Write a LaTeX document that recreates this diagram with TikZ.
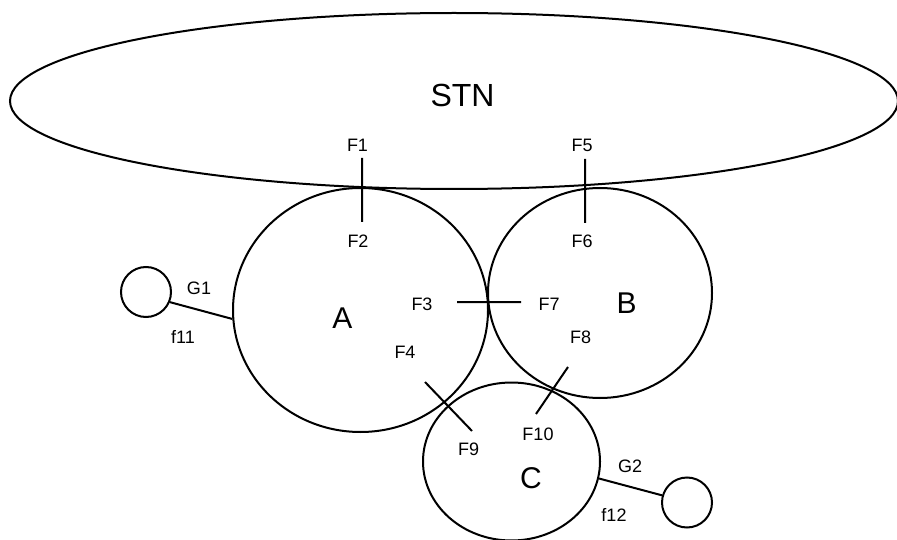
\documentclass[tikz,border=0pt]{standalone}
\usepackage{fontspec}
\setmainfont{Liberation Sans}
\usetikzlibrary{shapes.geometric}
\newcommand*{\bigtext}{\fontsize{30}{30}\selectfont}
\newcommand*{\smalltext}{\fontsize{18}{18}\selectfont}

\begin{document}
\begin{tikzpicture}[x=1pt, y=-1pt, line width=2pt]
      \useasboundingbox (0,0) rectangle (897,540);

      {\tikzstyle{every node}=[ellipse, draw, inner sep=0pt]
        \node[minimum width=888pt, minimum height=176pt] (stn) at (454,101) {};
        \node[minimum width=255pt, minimum height=244pt] (cA) at (360.5,310) {};
        \node[minimum width=224pt, minimum height=210pt] (cB) at (600,293) {};
        \node[minimum width=177pt, minimum height=158pt] (cC) at (511.5,461.5) {};
        \node[minimum width=50pt, minimum height=50pt] (g1) at (146,292) {};
        \node[minimum width=50pt, minimum height=50pt] (g2) at (687,502.5) {};
      }

      {\tikzstyle{every node}=[inner sep=0pt, font=\bigtext]
        \node (STN) at (462.5,95) {\fontsize{32}{32}\selectfont STN};
        \node (A) at (342.5,318) {A};
        \node (B) at (626.5,303) {B};
        \node (C) at (531,478.5) {C};
      }

      {\tikzstyle{every node}=[inner sep=0pt, font=\smalltext]
        \foreach \n/\x/\y in {F1/357.5/145.5, F2/358/241, F3/422/304.5, F4/405/352.5,
          F5/582/145.5, F6/582/241, F7/549/304.5, F8/580.5/337.5, F9/468.5/449.5,
          F10/538/434.5, G1/199/288.5, f11/183/336.5, G2/630/466.5, f12/614/514.5}
        {
          \node (\n) at (\x,\y) {\n};
        }
      }

      \coordinate (p1) at (362,158);
      \coordinate (p2) at (362,222);
      \coordinate (p3) at (457,302);
      \coordinate (p4) at (425,382);
      \coordinate (p5) at (585,159);
      \coordinate (p6) at (585,223);
      \coordinate (p7) at (521,302);
      \coordinate (p8) at (568,367);
      \coordinate (p9) at (472,431);
      \coordinate (p10) at (536,414);

      \draw
        (p1) -- (p2)
        (p5) -- (p6)
        (p3) -- (p7)
        (p4) -- (p9)
        (p8) -- (p10);

      \draw
        (g1.-23) -- (cA.184)
        (cC.-11) -- (g2.164);
    \end{tikzpicture}
\end{document}
